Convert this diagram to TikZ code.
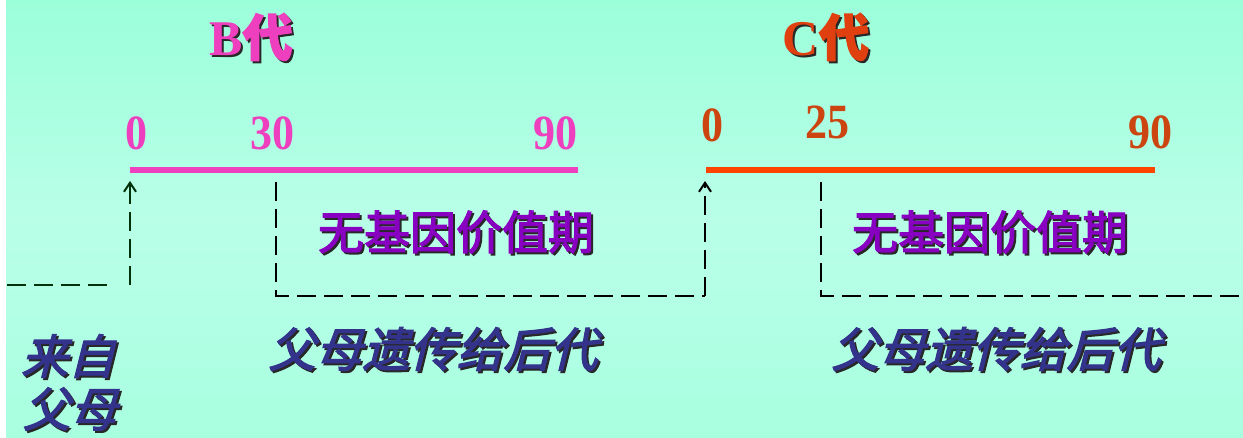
\documentclass[tikz,border=0pt]{standalone}
\usepackage{fontspec}
\setmainfont{Liberation Serif}
\newfontfamily\cjkb[FakeBold=2.5]{Noto Sans CJK SC}
\newfontfamily\cjkbi[FakeBold=2.5,FakeSlant=0.25]{Noto Sans CJK SC}
\usetikzlibrary{arrows.meta}
\definecolor{bgtop}{RGB}{155,255,218}
\definecolor{bgmid}{RGB}{185,255,232}
\definecolor{bgbot}{RGB}{168,255,224}
\definecolor{pinkc}{RGB}{238,64,190}
\definecolor{orangec}{RGB}{255,68,0}
\definecolor{brownc}{RGB}{204,68,16}
\definecolor{titlec}{RGB}{224,64,16}
\definecolor{purplec}{RGB}{136,0,192}
\definecolor{bluec}{RGB}{51,51,140}
\definecolor{shadc}{RGB}{40,40,40}
\definecolor{greenc}{RGB}{0,50,10}
\newcommand\shtext[2]{\makebox[0pt][l]{\raisebox{-2pt}{\hspace{2pt}\color{shadc}#2}}{\color{#1}#2}}
\newcommand\tallnum[1]{\scalebox{1}[1.12]{#1}}
\tikzset{
  numlbl/.style={inner sep=0pt, font=\fontsize{44}{46}\selectfont\bfseries},
  titlelbl/.style={inner sep=0pt, font=\fontsize{50}{52}\selectfont\bfseries},
  zonelbl/.style={inner sep=0pt, font=\fontsize{46}{48}\selectfont\cjkb},
  passlbl/.style={inner sep=0pt, font=\fontsize{47}{49}\selectfont\cjkbi, align=left},
  bar/.style={line width=6pt},
  dashline/.style={line width=2.6pt, dash pattern=on 19pt off 8pt},
  arr/.style={-{Straight Barb[length=9pt,width=12pt,line width=2pt]}}
}
\begin{document}
\begin{tikzpicture}[x=1pt,y=-1pt]
\useasboundingbox (0,0) rectangle (1243,438);
\shade[top color=bgtop, bottom color=bgbot, middle color=bgmid] (0,0) rectangle (1243,438);
\fill[white] (0,0) rectangle (6,438);
% titles
\node[titlelbl] (tB) at (251,38) {\shtext{pinkc}{B{\cjkb 代}}};
\node[titlelbl] (tC) at (826,38) {\shtext{titlec}{C{\cjkb 代}}};
% B numbers
\node[numlbl, text=pinkc] (b0) at (136,133) {\tallnum{0}};
\node[numlbl, text=pinkc] (b30) at (272,133) {\tallnum{30}};
\node[numlbl, text=pinkc] (b90) at (555,133) {\tallnum{90}};
% C numbers
\node[numlbl, text=brownc] (c0) at (712,125) {\tallnum{0}};
\node[numlbl, text=brownc] (c25) at (827,122) {\tallnum{25}};
\node[numlbl, text=brownc] (c90) at (1150,132) {\tallnum{90}};
% bars
\coordinate (bs) at (130,170); \coordinate (be) at (578,170);
\coordinate (cs) at (706,170); \coordinate (ce) at (1155,170);
\draw[bar, pinkc] (bs) -- (be);
\draw[bar, orangec] (cs) -- (ce);
% dashed paths
\coordinate (l0) at (7,285); \coordinate (l1) at (112,285);
\coordinate (l2) at (130,285); \coordinate (l3) at (130,181);
\draw[dashline, greenc] (l0) -- (l1);
\draw[dashline, greenc, arr] (l2) -- (l3);
\coordinate (m0) at (276,182); \coordinate (m1) at (276,296); \coordinate (m2) at (705,296); \coordinate (m3) at (705,181);
\draw[dashline, black] (m0) -- (m1) -- (m2);
\draw[dashline, black, arr] (m2) -- (m3);
\coordinate (n0) at (821,182); \coordinate (n1) at (821,296); \coordinate (n2) at (1243,296);
\draw[dashline, black] (n0) -- (n1) -- (n2);
% labels
\node[zonelbl] (z1) at (456,233) {\shtext{purplec}{无基因价值期}};
\node[zonelbl] (z2) at (990,233) {\shtext{purplec}{无基因价值期}};
\node[passlbl] (p1) at (433,350) {\shtext{bluec}{父母遗传给后代}};
\node[passlbl] (p2) at (996,350) {\shtext{bluec}{父母遗传给后代}};
\node[passlbl] (f1) at (68,357) {\shtext{bluec}{来自}};
\node[passlbl] (f2) at (70,410) {\shtext{bluec}{父母}};
\end{tikzpicture}
\end{document}
